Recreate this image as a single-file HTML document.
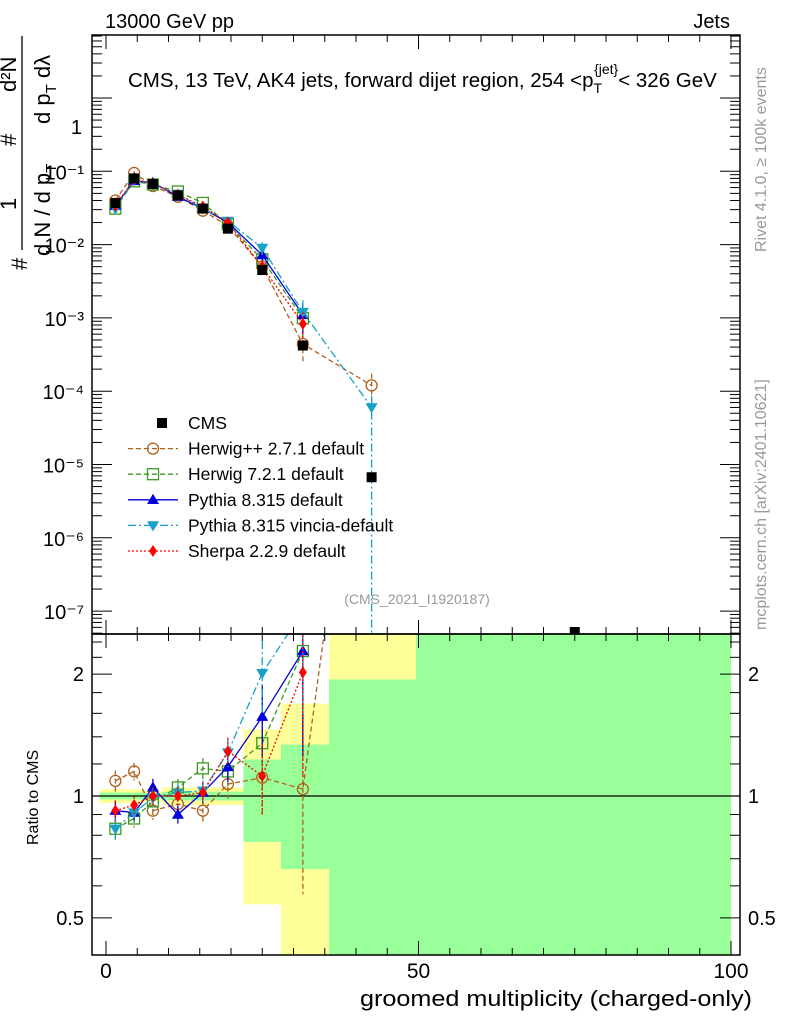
<!DOCTYPE html>
<html><head><meta charset="utf-8"><style>
html,body{margin:0;background:#fff;overflow:hidden;width:786px;height:1024px}
svg{font-family:"Liberation Sans",sans-serif;display:block}
</style></head><body>
<svg id="c" width="786" height="1024" viewBox="0 0 786 1024" xmlns="http://www.w3.org/2000/svg">
<defs>
<clipPath id="clipTop"><rect x="92" y="35" width="648" height="599"/></clipPath>
<clipPath id="clipRat"><rect x="92" y="634" width="648" height="321"/></clipPath>
</defs>
<g id="bands" clip-path="url(#clipRat)"></g>
<g id="series"></g>
<g id="axes"></g>
<text x="105" y="28" font-size="20">13000 GeV pp</text>
<text x="730" y="28" font-size="20" text-anchor="end">Jets</text>
<text x="128" y="87" font-size="20.5">CMS, 13 TeV, AK4 jets, forward dijet region, 254 &lt;p<tspan font-size="14" dy="6">T</tspan><tspan font-size="14" dy="-19" dx="-8">{jet}</tspan><tspan dy="13">&lt; 326 GeV</tspan></text>
<text x="417" y="604" font-size="14" fill="#999" text-anchor="middle">(CMS_2021_I1920187)</text>
<text transform="translate(766,252) rotate(-90)" font-size="16" fill="#999">Rivet 4.1.0, ≥ 100k events</text>
<text transform="translate(766,630) rotate(-90)" font-size="16" fill="#999">mcplots.cern.ch [arXiv:2401.10621]</text>
<g font-size="22">
<line x1="22" y1="36" x2="22" y2="250" stroke="#000" stroke-width="1.3"/>
<text transform="translate(27,270) rotate(-90)">#</text>
<text transform="translate(16,210) rotate(-90)">1</text>
<text transform="translate(16,146) rotate(-90)">#</text>
<text transform="translate(16,92) rotate(-90)">d²N</text>
<text transform="translate(50,256) rotate(-90)">d N / d p<tspan font-size="15" dy="6">T</tspan></text>
<text transform="translate(50,124) rotate(-90)">d p<tspan font-size="15" dy="6">T</tspan><tspan dy="-6"> d</tspan>λ</text>
</g>
<text transform="translate(38,845) rotate(-90)" font-size="16">Ratio to CMS</text>
<text x="752" y="1006" font-size="22" text-anchor="end" textLength="392" lengthAdjust="spacingAndGlyphs">groomed multiplicity (charged-only)</text>
<g id="legend"></g>
</svg>
<script>
const xCenters=[1.5,4.5,7.5,11.5,15.5,19.5,25,31.5,42.5,75];
const cms=[0.037,0.08,0.067,0.047,0.031,0.0165,0.0045,4.2e-4,6.7e-6,4e-8];
const herwigpp=[0.040,0.095,0.063,0.045,0.029,0.018,0.005,4.4e-4,1.2e-4];
const herwig7=[0.031,0.073,0.066,0.053,0.037,0.019,0.0063,9.9e-4];
const pythia=[0.034,0.074,0.070,0.045,0.031,0.020,0.0072,0.0011];
const vincia=[0.031,0.075,0.066,0.049,0.031,0.021,0.009,0.0012,6e-5];
const sherpa=[0.034,0.078,0.068,0.048,0.033,0.020,0.005,8.3e-4];
const rHerwigpp=[1.09,1.15,0.92,0.955,0.92,1.07,1.11,1.04,18];
const rHerwig7=[0.83,0.88,0.97,1.05,1.17,1.15,1.35,2.28];
const rPythia=[0.92,0.91,1.05,0.90,1.02,1.18,1.57,2.28];
const rVincia=[0.83,0.91,0.99,1.02,1.03,1.28,2.01,2.86,9];
const rSherpa=[0.92,0.95,1.0,1.0,1.02,1.29,1.12,2.02];
const relErr=[0.06,0.05,0.05,0.05,0.06,0.08,0.2,0.45];
const binEdges=[-1,3,6,9,14,17,22,28,35.7,49.6,100];
const bandYellowHi=[1.04,1.04,1.03,1.05,1.05,1.05,1.46,1.69,10,10];
const bandYellowLo=[0.96,0.96,0.97,0.95,0.95,0.95,0.54,0.1,0.1,0.1];
const bandGreenHi=[1.02,1.02,1.015,1.025,1.025,1.025,1.23,1.34,1.94,10];
const bandGreenLo=[0.98,0.98,0.985,0.975,0.975,0.975,0.77,0.66,0.1,0.1];
const yTicksTop=["1","10⁻¹","10⁻²","10⁻³","10⁻⁴","10⁻⁵","10⁻⁶","10⁻⁷"];
const xTickLabels=[0,50,100];

const NS="http://www.w3.org/2000/svg";
const X=v=>106+6.25*v;
const YT=v=>98-73.3*Math.log10(v);
const YR=v=>796-405*Math.log10(v);
function mk(tag,attrs,parent){const e=document.createElementNS(NS,tag);for(const k in attrs)e.setAttribute(k,attrs[k]);parent.appendChild(e);return e;}
const bands=document.getElementById('bands'),series=document.getElementById('series'),axes=document.getElementById('axes'),legend=document.getElementById('legend');

for(let i=0;i<bandYellowHi.length;i++){
 const x0=X(binEdges[i]),x1=X(binEdges[i+1]);
 const y=mk('rect',{x:x0,y:YR(bandYellowHi[i]),width:x1-x0,height:YR(bandYellowLo[i])-YR(bandYellowHi[i]),fill:'#ffff99'},bands);
 
 
}
for(let i=0;i<bandGreenHi.length;i++){
 const x0=X(binEdges[i]),x1=X(binEdges[i+1]);
 const g=mk('rect',{x:x0,y:YR(bandGreenHi[i]),width:x1-x0,height:YR(bandGreenLo[i])-YR(bandGreenHi[i]),fill:'#99ff99'},bands);
 
 
}
mk('line',{x1:92,x2:740,y1:YR(1),y2:YR(1),stroke:'#000','stroke-width':1.2},bands);

function marker(g,type,color,x,y){
 const s=6;
 if(type==='sq')return mk('rect',{x:x-5,y:y-5,width:10,height:10,fill:'#000'},g);
 if(type==='circ')return mk('circle',{cx:x,cy:y,r:5.5,fill:'none',stroke:color,'stroke-width':1.3},g);
 if(type==='osq')return mk('rect',{x:x-5.5,y:y-5.5,width:11,height:11,fill:'none',stroke:color,'stroke-width':1.3},g);
 if(type==='tri')return mk('polygon',{points:`${x},${y-s} ${x-s},${y+s*0.7} ${x+s},${y+s*0.7}`,fill:color},g);
 if(type==='dtri')return mk('polygon',{points:`${x},${y+s} ${x-s},${y-s*0.7} ${x+s},${y-s*0.7}`,fill:color},g);
 if(type==='dia')return mk('polygon',{points:`${x},${y-6} ${x-4},${y} ${x},${y+6} ${x+4},${y}`,fill:color},g);
}
const defs=[
 {name:'herwigpp',label:'Herwig++ 2.7.1 default',top:herwigpp,rat:rHerwigpp,color:'#b0601a',dash:'5,3',m:'circ'},
 {name:'herwig7',label:'Herwig 7.2.1 default',top:herwig7,rat:rHerwig7,color:'#3c9a1e',dash:'5,3',m:'osq'},
 {name:'pythia',label:'Pythia 8.315 default',top:pythia,rat:rPythia,color:'#0000dd',dash:'',m:'tri'},
 {name:'vincia',label:'Pythia 8.315 vincia-default',top:vincia,rat:rVincia,color:'#18a0c8',dash:'8,3,2,3',m:'dtri'},
 {name:'sherpa',label:'Sherpa 2.2.9 default',top:sherpa,rat:rSherpa,color:'#ff0000',dash:'2,2',m:'dia'}
];
function drawSeries(d){
 ['top','rat'].forEach(panel=>{
  const vals=d[panel],Y=panel==='top'?YT:YR;
  const g=mk('g',{'clip-path':`url(#${panel==='top'?'clipTop':'clipRat'})`},series);
  
  
  const pts=vals.map((v,i)=>X(xCenters[i])+','+Y(v)).join(' ');
  mk('polyline',{points:pts,fill:'none',stroke:d.color,'stroke-width':1.3,'stroke-dasharray':d.dash},g);
  vals.forEach((v,i)=>{
   const e=relErr[Math.min(i,relErr.length-1)];
   const lo=d.name==='vincia'&&i===8&&panel==='top'?1e-12:v*(1-Math.min(e,0.9));
   mk('line',{x1:X(xCenters[i]),x2:X(xCenters[i]),y1:Y(v*(1+e)),y2:Y(lo),stroke:d.color,'stroke-width':1.3,'stroke-dasharray':d.dash},g);
   const m=marker(g,d.m,d.color,X(xCenters[i]),Y(v));
   
   
  });
 });
}
defs.forEach(drawSeries);
{
 const g=mk('g',{'clip-path':'url(#clipTop)'},series);
 
 
 cms.forEach((v,i)=>{
  const y=Math.min(YT(v),632);
  const m=marker(g,'sq','#000',X(xCenters[i]),y);
  
  
 });
}
[[35,634],[634,955]].forEach(([y0,y1])=>{
 mk('rect',{x:92,y:y0,width:648,height:y1-y0,fill:'none',stroke:'#000','stroke-width':1.5},axes);
 for(let v=0;v<=100;v+=5){
  const L=(v%50===0)?14:7;
  mk('line',{x1:X(v),x2:X(v),y1:y1,y2:y1-L,stroke:'#000'},axes);
  mk('line',{x1:X(v),x2:X(v),y1:y0,y2:y0+L,stroke:'#000'},axes);
 }
});
xTickLabels.forEach(v=>{const t=mk('text',{x:X(v),y:978,'font-size':21,'text-anchor':'middle'},axes);t.textContent=v;
 });
for(let d=0;d>=-8;d--){
 for(let k=1;k<10;k++){
  const v=k*Math.pow(10,d),y=YT(v);
  if(y<35||y>634)continue;
  const L=k===1?20:10;
  mk('line',{x1:92,x2:92+L,y1:y,y2:y,stroke:'#000'},axes);
  mk('line',{x1:740,x2:740-L,y1:y,y2:y,stroke:'#000'},axes);
 }
}
yTicksTop.forEach((s,i)=>{
 const y=i===0?134:YT(Math.pow(10,-i))+8;
 const t=mk('text',{x:i===0?82:84,y:y,'font-size':20,'text-anchor':'end'},axes);t.textContent=s;
 
});
[0.5,0.6,0.7,0.8,0.9,1,1.2,1.4,1.6,1.8,2,2.2,2.4].forEach(v=>{
 const L=(v===0.5||v===1||v===2)?20:10,y=YR(v);
 mk('line',{x1:92,x2:92+L,y1:y,y2:y,stroke:'#000'},axes);
 mk('line',{x1:740,x2:740-L,y1:y,y2:y,stroke:'#000'},axes);
});
[["0.5",0.5],["1",1],["2",2]].forEach(([s,v])=>{
 [[84,'end'],[748,'start']].forEach(([x,a])=>{
  const t=mk('text',{x:x,y:YR(v)+7,'font-size':20,'text-anchor':a},axes);t.textContent=s;
  
 });
});
const ly0=423,ldy=25.6;
{
 marker(legend,'sq','#000',162,ly0);
 const t=mk('text',{x:188,y:ly0+6,'font-size':17.5},legend);t.textContent='CMS';
 
}
defs.forEach((d,i)=>{
 const y=ly0+ldy*(i+1);
 mk('line',{x1:128,x2:178,y1:y,y2:y,stroke:d.color,'stroke-width':1.3,'stroke-dasharray':d.dash},legend);
 marker(legend,d.m,d.color,153,y);
 const t=mk('text',{x:188,y:y+6,'font-size':17.5},legend);t.textContent=d.label;
 
});
</script>
</body></html>
